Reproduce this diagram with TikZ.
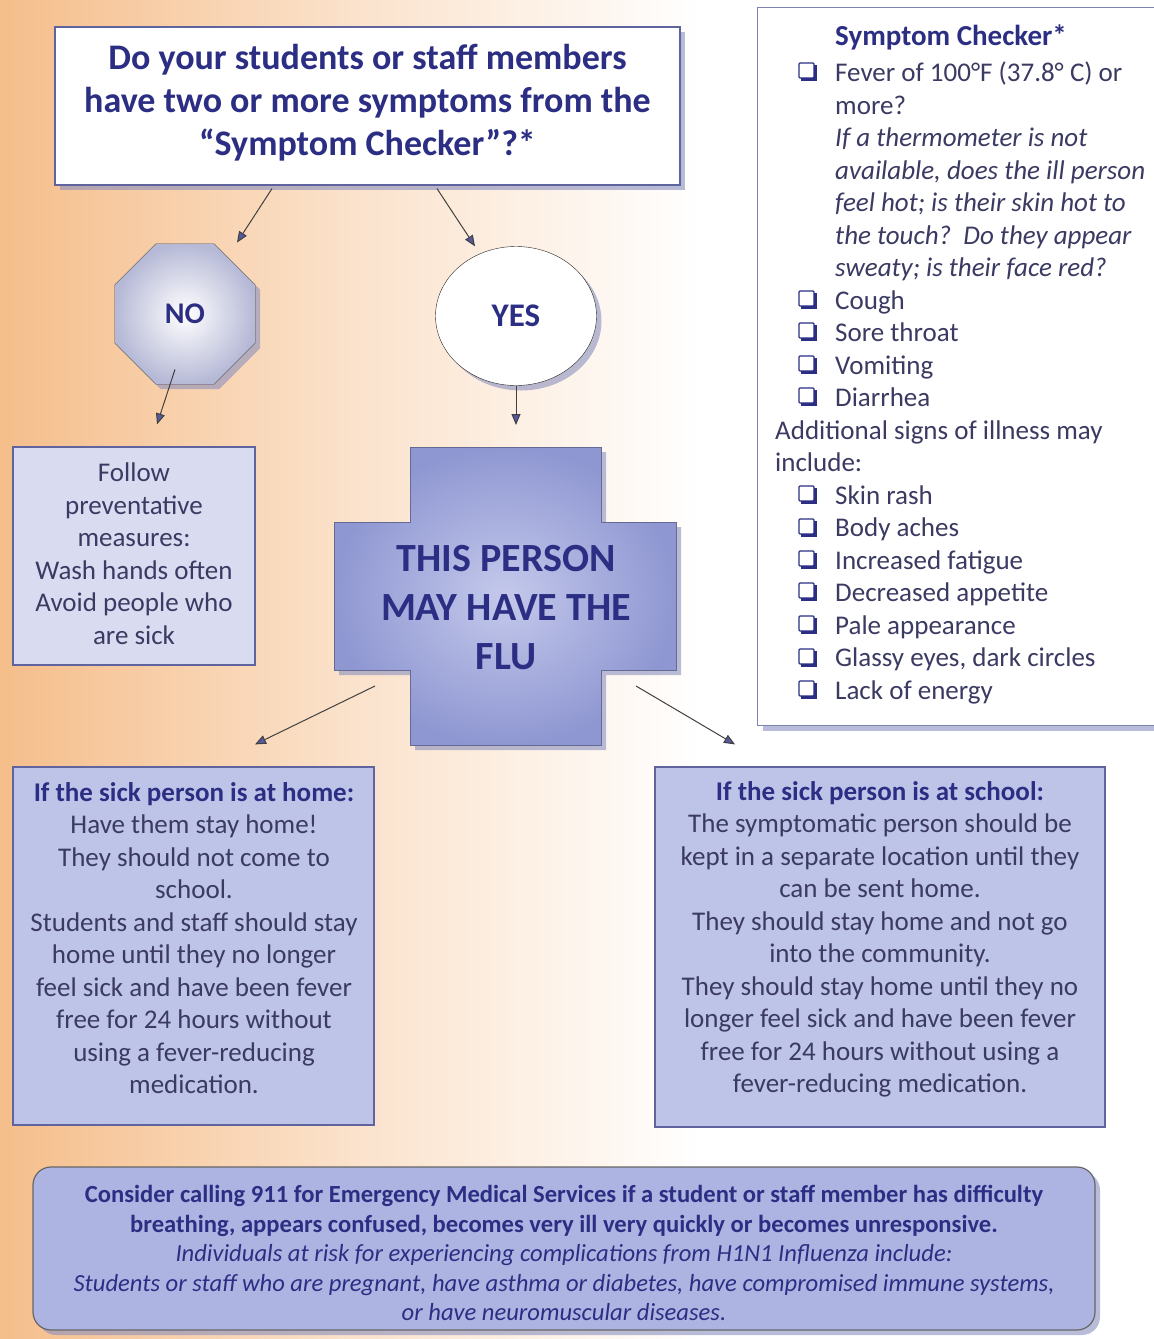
\documentclass[tikz,border=0pt]{standalone}
\usepackage{fontspec}
\setmainfont{Carlito}
\usetikzlibrary{shapes,shapes.geometric,calc,positioning,shadows,arrows.meta}

\definecolor{navy}{HTML}{2B2E83}
\definecolor{ink}{HTML}{3A3A62}
\definecolor{edge}{HTML}{5F639E}
\definecolor{lav}{HTML}{BEC4E8}
\definecolor{lavlight}{HTML}{D9DCF1}
\definecolor{lavdeep}{HTML}{ADB4E2}
\definecolor{octgray}{HTML}{B6B9D6}
\definecolor{crossblue}{HTML}{8F97D2}
\definecolor{crosslight}{HTML}{C4C9EB}
\definecolor{bgorange}{HTML}{F5BE8B}
\definecolor{shadowblue}{HTML}{8A90BE}

\newcommand{\txtbody}{\fontsize{27}{32.5}\selectfont}
\newcommand{\txttitle}{\fontsize{36}{43}\selectfont}
\newcommand{\txtflu}{\fontsize{40}{49}\selectfont}
\newcommand{\txtnote}{\fontsize{24.6}{29.5}\selectfont}

\tikzset{
  box/.style={draw=edge, line width=1.2pt, fill=lav, inner sep=0pt},
  boxtext/.style={align=center, text=ink, inner sep=0pt, font=\txtbody},
  shadowed/.style={drop shadow={shadow xshift=5pt, shadow yshift=-5pt, fill=shadowblue, opacity=0.6}},
  arr/.style={draw=black!75, line width=1pt, -{Triangle[length=11pt,width=9pt,fill=navy!80]}},
}

\begin{document}
\begin{tikzpicture}[x=1pt,y=-1pt]
\useasboundingbox (0,0) rectangle (1154,1339);
% background
\shade[left color=bgorange, right color=white, middle color=bgorange!45!white] (0,0) rectangle (700,1339);

% question and answers
\node[box, fill=white, shadowed, minimum width=625pt, minimum height=158pt] (question) at (367.5,106) {};
\node[boxtext, font=\txttitle\bfseries, text=navy] (questiontext) at (367.5,103) {Do your students or staff members\\have two or more symptoms from the\\``Symptom Checker''?*};

\node[regular polygon, regular polygon sides=8, minimum size=152pt, inner sep=0pt, draw=black!70, shadowed,
  inner color=white, outer color=octgray, font=\fontsize{30}{34}\selectfont\bfseries, text=navy] (no) at (185,314) {NO};
\node[ellipse, draw=black!85, fill=white, shadowed, minimum width=161pt, minimum height=139pt,
  font=\fontsize{33}{36}\selectfont\bfseries, text=navy] (yes) at (516,316) {YES};

\node[box, fill=lavlight, minimum width=242pt, minimum height=218pt] (prevent) at (134,556) {};
\node[boxtext] (preventtext) at (134,553.5) {Follow\\preventative\\measures:\\Wash hands often\\Avoid people who\\are sick};

% the cross
\path[shadowed, draw=crossblue!70!black, line width=0.5pt, inner color=crosslight, outer color=crossblue]
  (410,447) -- (601,447) -- (601,522) -- (676,522) -- (676,670) -- (601,670) -- (601,745)
  -- (410,745) -- (410,670) -- (334,670) -- (334,522) -- (410,522) -- cycle;
\node[align=center, font=\txtflu\bfseries, text=navy] (flu) at (506,608) {THIS PERSON\\MAY HAVE THE\\FLU};

% where the sick person is
\node[box, minimum width=361pt, minimum height=358pt] (home) at (193.5,946) {};
\node[boxtext] (hometext) at (194,938) {{\bfseries\color{navy}If the sick person is at home:}\\Have them stay home!\\They should not come to\\school.\\Students and staff should stay\\home until they no longer\\feel sick and have been fever\\free for 24 hours without\\using a fever-reducing\\medication.};
\node[box, minimum width=450pt, minimum height=360pt] (school) at (880,947) {};
\node[boxtext] (schooltext) at (880,939.5) {{\bfseries\color{navy}If the sick person is at school:}\\The symptomatic person should be\\kept in a separate location until they\\can be sent home.\\They should stay home and not go\\into the community.\\They should stay home until they no\\longer feel sick and have been fever\\free for 24 hours without using a\\fever-reducing medication.};

% symptom checker
\node[draw=edge!80, line width=1pt, fill=white, shadowed, minimum width=410pt, minimum height=718pt, anchor=north west, inner sep=0pt] (checker) at (757,7) {};
\node[anchor=north west, align=left, inner sep=0pt, text=ink, font=\txtbody] (checklist) at (775,25) {%
\hspace*{60pt}{\fontsize{29}{32.5}\selectfont\bfseries\color{navy}Symptom Checker*}\\[3.5pt]
\hspace*{60pt}Fever of 100°F (37.8° C) or\\
\hspace*{60pt}more?\\
\hspace*{60pt}\textit{If a thermometer is not}\\
\hspace*{60pt}\textit{available, does the ill person}\\
\hspace*{60pt}\textit{feel hot; is their skin hot to}\\
\hspace*{60pt}\textit{the touch?\ \ Do they appear}\\
\hspace*{60pt}\textit{sweaty; is their face red?}\\
\hspace*{60pt}Cough\\
\hspace*{60pt}Sore throat\\
\hspace*{60pt}Vomiting\\
\hspace*{60pt}Diarrhea\\
Additional signs of illness may\\
include:\\
\hspace*{60pt}Skin rash\\
\hspace*{60pt}Body aches\\
\hspace*{60pt}Increased fatigue\\
\hspace*{60pt}Decreased appetite\\
\hspace*{60pt}Pale appearance\\
\hspace*{60pt}Glassy eyes, dark circles\\
\hspace*{60pt}Lack of energy};
\foreach \y in {72,300,332,365,397,495,528,560,592,625,658,690}{
  \draw[navy, line width=1.2pt, rounded corners=1pt] (799,\y-9) rectangle (814,\y+6);
  \draw[navy, line width=2.5pt] (801,\y+7.5) -- (815.5,\y+7.5) -- (815.5,\y-7);
}

% emergency note
\node[box, fill=lavdeep, draw=black!60, rounded corners=18pt, shadowed, minimum width=1062pt, minimum height=163pt] (emergency) at (564,1248.5) {};
\node[boxtext, font=\txtnote, text=navy] (emergencytext) at (564,1253) {%
{\bfseries Consider calling 911 for Emergency Medical Services if a student or staff member has difficulty}\\
{\bfseries breathing, appears confused, becomes very ill very quickly or becomes unresponsive.}\\
\textit{Individuals at risk for experiencing complications from H1N1 Influenza include:}\\
\textit{Students or staff who are pregnant, have asthma or diabetes, have compromised immune systems,}\\
\textit{or have neuromuscular diseases.}};

% arrows
\draw[arr] ([xshift=-95.5pt,yshift=-3pt]question.south) -- ([xshift=52pt,yshift=1pt]no.north);
\draw[arr] ([xshift=69.5pt,yshift=-3pt]question.south) -- ([xshift=-41pt]yes.north);
\draw[arr] ([xshift=-10pt,yshift=15pt]no.south) -- ([xshift=23pt,yshift=22pt]prevent.north);
\coordinate (crosstop) at (516,425);
\draw[arr] (yes.south) -- (crosstop);
\draw[arr] ($(flu)+(-131,78)$) -- ([xshift=61.5pt,yshift=22pt]home.north);
\draw[arr] ($(flu)+(130,78)$) -- ([xshift=-145pt,yshift=22pt]school.north);
\end{tikzpicture}
\end{document}
